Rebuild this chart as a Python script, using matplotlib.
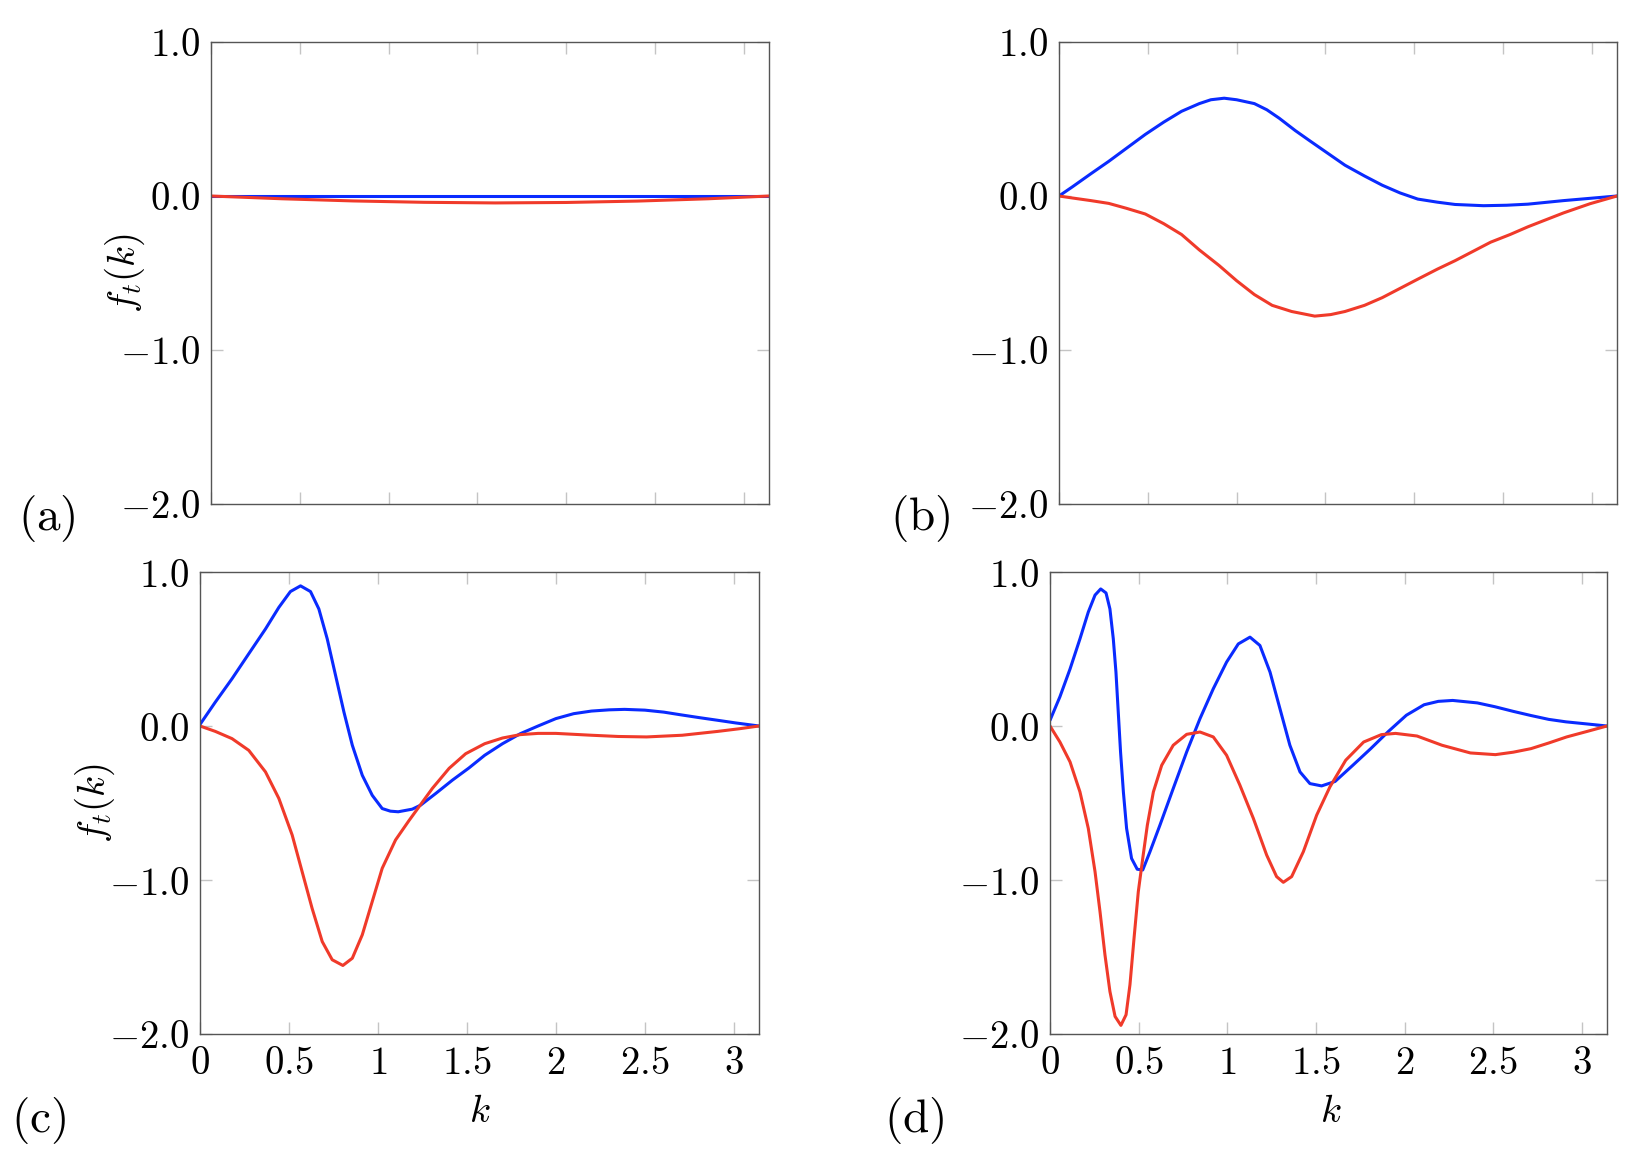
import matplotlib
matplotlib.use("Agg")
import matplotlib.pyplot as plt
import numpy as np

plt.rcParams['mathtext.fontset'] = 'cm'
plt.rcParams['font.family'] = ['DejaVu Serif']

# ---------------- data ----------------
# panel (a)
a_blue_k = [0.0, 0.8, 1.6, 2.4, 3.1416]
a_blue_v = [0.0, 0.0, 0.0, 0.0, 0.0]
a_red_k = [0.0, 0.4, 0.8, 1.2, 1.6, 2.0, 2.4, 2.8, 3.1416]
a_red_v = [0.0, -0.018, -0.032, -0.041, -0.045, -0.042, -0.033, -0.018, 0.0]

# panel (b)
b_blue_k = [0.0, 0.076, 0.18, 0.28, 0.38, 0.486, 0.59, 0.69, 0.79, 0.855, 0.93,
            1.0, 1.10, 1.17, 1.24, 1.33, 1.41, 1.51, 1.61, 1.72, 1.82, 1.92,
            2.02, 2.13, 2.23, 2.39, 2.52, 2.64, 2.84, 3.1416]
b_blue_v = [0.0, 0.06, 0.145, 0.225, 0.31, 0.40, 0.48, 0.55, 0.60, 0.625, 0.635,
            0.625, 0.60, 0.56, 0.505, 0.425, 0.36, 0.28, 0.20, 0.13, 0.07, 0.02,
            -0.02, -0.04, -0.055, -0.063, -0.06, -0.053, -0.03, 0.0]
b_red_k = [0.0, 0.076, 0.18, 0.28, 0.38, 0.486, 0.59, 0.69, 0.79, 0.90, 1.00,
           1.10, 1.20, 1.31, 1.44, 1.53, 1.61, 1.72, 1.82, 1.92, 2.02, 2.13,
           2.23, 2.33, 2.43, 2.54, 2.64, 2.74, 2.84, 2.99, 3.1416]
b_red_v = [0.0, -0.013, -0.03, -0.048, -0.08, -0.117, -0.18, -0.25, -0.35, -0.45, -0.55,
           -0.64, -0.71, -0.75, -0.78, -0.77, -0.75, -0.71, -0.66, -0.60, -0.54, -0.475,
           -0.42, -0.36, -0.30, -0.25, -0.20, -0.155, -0.11, -0.05, 0.0]

# panel (c)
c_blue_k = [0.0, 0.086, 0.18, 0.274, 0.368, 0.443, 0.508, 0.565, 0.621, 0.668,
            0.715, 0.762, 0.809, 0.856, 0.912, 0.968, 1.024, 1.07, 1.114, 1.193,
            1.24, 1.325, 1.418, 1.512, 1.60, 1.70, 1.80, 1.90, 2.00, 2.10, 2.20,
            2.30, 2.386, 2.50, 2.607, 2.70, 2.808, 2.91, 3.01, 3.1416]
c_blue_v = [0.01, 0.155, 0.307, 0.469, 0.63, 0.77, 0.873, 0.91, 0.873, 0.76,
            0.566, 0.328, 0.09, -0.125, -0.32, -0.45, -0.536, -0.553, -0.557, -0.54,
            -0.514, -0.438, -0.352, -0.272, -0.19, -0.115, -0.05, 0.0, 0.048, 0.08, 0.097,
            0.105, 0.108, 0.103, 0.09, 0.073, 0.054, 0.037, 0.02, 0.0]
c_red_k = [0.0, 0.086, 0.18, 0.274, 0.368, 0.443, 0.518, 0.574, 0.63, 0.687,
           0.743, 0.803, 0.856, 0.912, 0.968, 1.024, 1.099, 1.174, 1.24, 1.306,
           1.40, 1.493, 1.60, 1.70, 1.80, 1.90, 2.00, 2.20, 2.35, 2.51, 2.71,
           2.91, 3.03, 3.1416]
c_red_v = [0.0, -0.035, -0.082, -0.158, -0.298, -0.47, -0.708, -0.946, -1.184, -1.40,
           -1.518, -1.555, -1.508, -1.356, -1.14, -0.924, -0.74, -0.615, -0.51, -0.405,
           -0.275, -0.18, -0.115, -0.078, -0.056, -0.048, -0.048, -0.06, -0.068, -0.071, -0.06,
           -0.035, -0.018, 0.0]

# panel (d)
d_blue_k = [0.0, 0.056, 0.113, 0.169, 0.216, 0.254, 0.286, 0.316, 0.338, 0.357,
            0.372, 0.385, 0.398, 0.414, 0.432, 0.46, 0.492, 0.523, 0.564, 0.62,
            0.695, 0.771, 0.846, 0.921, 0.996, 1.062, 1.128, 1.184, 1.241, 1.297,
            1.353, 1.41, 1.466, 1.532, 1.608, 1.708, 1.809, 1.909, 2.01, 2.11,
            2.19, 2.271, 2.41, 2.51, 2.613, 2.713, 2.813, 2.91, 3.014, 3.1416]
d_blue_v = [0.037, 0.19, 0.37, 0.566, 0.74, 0.85, 0.89, 0.864, 0.76, 0.566,
            0.35, 0.09, -0.17, -0.43, -0.665, -0.86, -0.93, -0.935, -0.816, -0.644,
            -0.406, -0.168, 0.048, 0.242, 0.415, 0.533, 0.577, 0.523, 0.35, 0.112,
            -0.125, -0.298, -0.374, -0.389, -0.36, -0.255, -0.147, -0.035, 0.07, 0.138,
            0.16, 0.166, 0.15, 0.125, 0.095, 0.068, 0.043, 0.027, 0.015, 0.0]
d_red_k = [0.0, 0.056, 0.113, 0.169, 0.216, 0.254, 0.282, 0.31, 0.338, 0.367,
           0.40, 0.429, 0.451, 0.474, 0.498, 0.523, 0.549, 0.583, 0.63, 0.695,
           0.771, 0.846, 0.921, 0.996, 1.071, 1.147, 1.222, 1.278, 1.316, 1.363,
           1.429, 1.504, 1.579, 1.668, 1.769, 1.869, 1.949, 2.07, 2.211, 2.371,
           2.512, 2.613, 2.713, 2.814, 2.914, 3.03, 3.1416]
d_red_v = [0.0, -0.104, -0.233, -0.428, -0.665, -0.946, -1.205, -1.486, -1.724, -1.886,
           -1.944, -1.875, -1.68, -1.378, -1.076, -0.86, -0.644, -0.428, -0.255, -0.125,
           -0.054, -0.039, -0.071, -0.19, -0.384, -0.60, -0.838, -0.978, -1.015, -0.978,
           -0.816, -0.579, -0.395, -0.222, -0.104, -0.056, -0.048, -0.065, -0.125, -0.175,
           -0.186, -0.17, -0.147, -0.11, -0.071, -0.035, 0.0]

x_ticks = [0, 0.5, 1, 1.5, 2, 2.5, 3]
x_tick_labels = ['$0$', '$0.5$', '$1$', '$1.5$', '$2$', '$2.5$', '$3$']
y_ticks = [1.0, 0.0, -1.0, -2.0]
y_tick_labels = ['$1.0$', '$0.0$', '$-1.0$', '$-2.0$']
panel_labels = ['(a)', '(b)', '(c)', '(d)']

BLUE = '#0a2bff'
RED = '#f03a2a'

panels = [
    (a_blue_k, a_blue_v, a_red_k, a_red_v),
    (b_blue_k, b_blue_v, b_red_k, b_red_v),
    (c_blue_k, c_blue_v, c_red_k, c_red_v),
    (d_blue_k, d_blue_v, d_red_k, d_red_v),
]

W, H = 1650, 1168
fig = plt.figure(figsize=(W / 100, H / 100), dpi=100)

# axes rectangles in pixels: left, top, right, bottom
rects = [
    (211, 42, 769, 504),
    (1059, 42, 1617, 504),
    (200, 572, 759, 1034),
    (1050, 572, 1607, 1034),
]

FS = 28
for i, (rect, data) in enumerate(zip(rects, panels)):
    l, t, r, b = rect
    ax = fig.add_axes([l / W, 1 - b / H, (r - l) / W, (b - t) / H])
    bk, bv, rk, rv = data
    ax.plot(bk, bv, color=BLUE, lw=2.2, solid_joinstyle='round', solid_capstyle='round', zorder=3)
    ax.plot(rk, rv, color=RED, lw=2.2, solid_joinstyle='round', solid_capstyle='round', zorder=3)
    ax.set_xlim(0, np.pi)
    ax.set_ylim(-2.0, 1.0)
    ax.set_xticks(x_ticks)
    ax.set_yticks(y_ticks)
    ax.set_yticklabels(y_tick_labels, fontsize=FS)
    if i >= 2:
        ax.set_xticklabels(x_tick_labels, fontsize=FS)
    else:
        ax.set_xticklabels([])
    ax.tick_params(direction='in', length=8.5, width=1.0, color='#c4c4c4',
                   top=True, right=True)
    ax.tick_params(axis='y', pad=8)
    ax.tick_params(axis='x', pad=8)
    for s in ax.spines.values():
        s.set_color('#555555')
        s.set_linewidth(1.0)
        s.set_zorder(4)

# y labels
fig.text(125 / W, 1 - 273 / H, r'$f_t(k)$', rotation=90, ha='center', va='center', fontsize=FS)
fig.text(95 / W, 1 - 803 / H, r'$f_t(k)$', rotation=90, ha='center', va='center', fontsize=FS)
# x labels
fig.text(480 / W, 1 - 1112 / H, r'$k$', ha='center', va='center', fontsize=FS)
fig.text(1331 / W, 1 - 1112 / H, r'$k$', ha='center', va='center', fontsize=FS)
# panel labels
label_pos = [(47, 518), (920, 518), (39, 1120), (914, 1120)]
for lab, (px, py) in zip(panel_labels, label_pos):
    fig.text(px / W, 1 - py / H, r'$\mathrm{' + lab + '}$', ha='center', va='center', fontsize=34)

fig.savefig('out.png', dpi=100)
